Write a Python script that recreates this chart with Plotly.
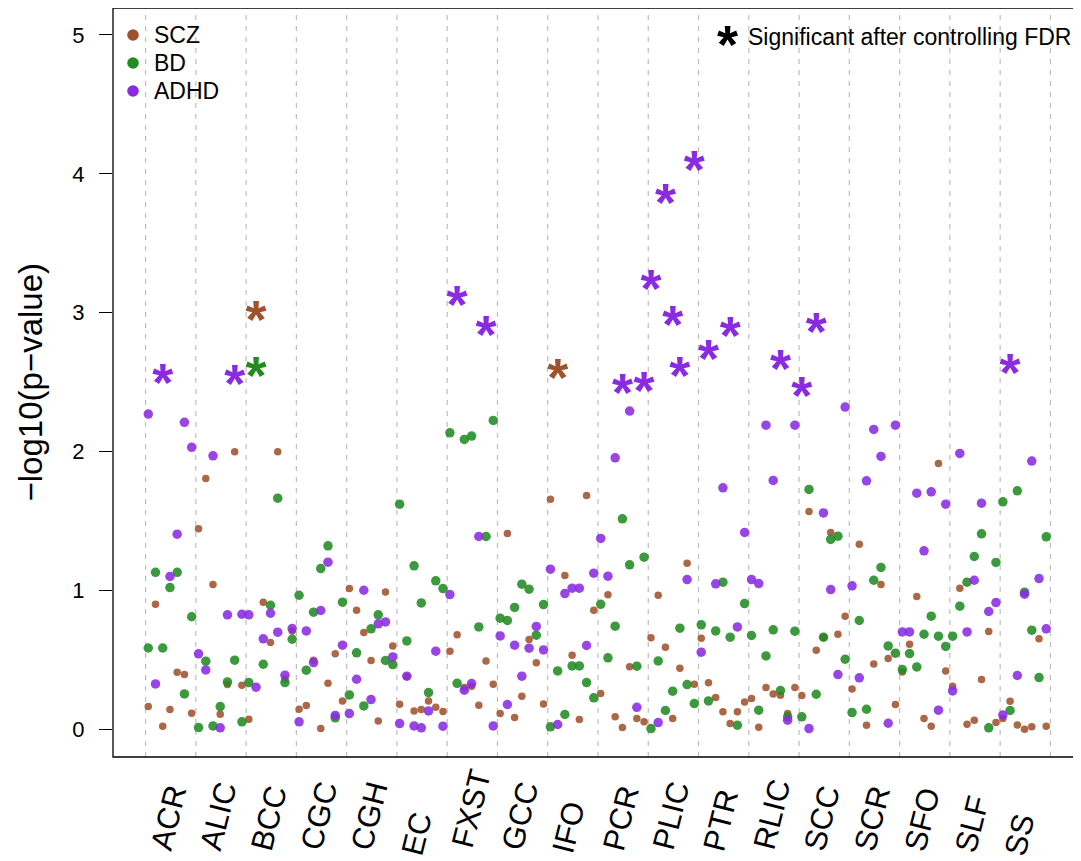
import math
import plotly.graph_objects as go

# ---------------- data ----------------
regions = ["ACR", "ALIC", "BCC", "CGC", "CGH", "EC", "FXST", "GCC", "IFO",
           "PCR", "PLIC", "PTR", "RLIC", "SCC", "SCR", "SFO", "SLF", "SS"]

# -log10(p) per region, 7 measures each
scz = [
    [0.163, 0.90, 0.022, 0.142, 0.41, 0.394, 0.115],
    [1.443, 1.806, 1.042, 0.108, 0.322, 1.998, 0.317],
    [0.072, 3.019, 0.915, 0.624, 1.998, 0.36, 0.708],
    [0.144, 0.171, 0.497, 0.005, 0.331, 0.543, 0.204],
    [1.013, 0.857, 0.697, 0.495, 0.06, 0.989, 0.60],
    [0.18, 0.38, 0.132, 0.142, 0.204, 0.158, 0.127],
    [0.562, 0.68, 0.30, 0.31, 0.173, 0.492, 0.324],
    [0.113, 1.41, 0.084, 0.238, 0.646, 0.478, 0.182],
    [1.657, 2.603, 1.107, 0.533, 0.07, 1.683, 0.857],
    [0.257, 0.968, 0.089, 0.012, 0.45, 0.077, 0.053],
    [0.658, 0.965, 0.591, 0.077, 0.439, 1.196, 0.324],
    [0.656, 0.334, 0.228, 0.125, 0.041, 0.125, 0.197],
    [0.221, 0.014, 0.30, 0.254, 0.245, 0.113, 0.30],
    [0.243, 1.568, 0.569, 0.66, 1.417, 0.684, 0.814],
    [0.29, 1.333, 0.029, 0.47, 1.042, 0.509, 0.178],
    [0.413, 0.612, 0.956, 0.077, 0.022, 1.914, 0.42],
    [0.31, 1.016, 0.036, 0.065, 0.358, 0.704, 0.048],
    [0.077, 0.202, 0.031, 0.0, 0.017, 0.651, 0.022],
]
bd = [
    [0.585, 1.13, 0.585, 1.02, 1.13, 0.254, 0.81],
    [0.012, 0.49, 0.024, 0.163, 0.341, 0.497, 0.053],
    [0.336, 2.615, 0.468, 0.893, 1.664, 0.336, 0.648],
    [0.965, 0.425, 0.843, 1.157, 1.321, 0.082, 0.915],
    [0.247, 0.55, 0.168, 0.723, 0.824, 0.495, 0.466],
    [1.621, 0.636, 1.177, 0.91, 0.264, 1.069, 1.013],
    [2.135, 0.331, 2.087, 2.111, 0.737, 1.388, 2.224],
    [0.80, 0.783, 0.877, 1.045, 1.009, 0.677, 0.898],
    [0.017, 0.42, 0.106, 0.456, 0.456, 0.336, 0.226],
    [0.90, 0.514, 0.742, 1.515, 1.184, 0.454, 1.239],
    [0.005, 0.492, 0.135, 0.274, 0.728, 0.322, 0.185],
    [0.752, 0.204, 0.708, 1.059, 0.663, 0.029, 0.905],
    [0.675, 0.137, 0.528, 0.716, 0.279, 0.089, 0.706],
    [0.089, 1.727, 0.252, 0.663, 1.367, 1.39, 0.504],
    [0.12, 0.783, 0.144, 1.073, 1.165, 0.60, 0.548],
    [0.43, 0.545, 0.449, 0.684, 0.814, 0.67, 0.596],
    [0.67, 0.886, 1.059, 1.244, 1.407, 0.01, 1.201],
    [1.638, 0.135, 1.717, 0.987, 0.713, 0.372, 1.386],
]
adhd = [
    [2.27, 0.326, 2.565, 1.10, 1.405, 2.21, 2.03],
    [0.543, 0.427, 1.969, 0.01, 0.824, 2.563, 0.828],
    [0.824, 0.303, 0.651, 0.836, 0.699, 0.389, 0.725],
    [0.053, 0.708, 0.48, 0.855, 1.203, 0.099, 0.605],
    [0.113, 0.36, 1.001, 0.214, 0.759, 0.773, 0.521],
    [0.041, 0.382, 0.024, 0.01, 0.132, 0.562, 0.022],
    [0.97, 3.127, 0.281, 0.329, 1.388, 2.916, 0.024],
    [0.672, 0.178, 0.605, 0.382, 0.584, 0.74, 0.571],
    [1.153, 0.034, 0.977, 1.016, 1.016, 0.603, 1.124],
    [1.374, 1.102, 1.955, 2.498, 2.291, 0.158, 2.51],
    [3.247, 0.048, 3.864, 2.983, 2.622, 1.078, 4.099],
    [0.555, 2.743, 1.047, 1.739, 2.906, 0.737, 1.417],
    [1.078, 1.049, 2.19, 1.792, 2.670, 0.065, 2.19],
    [2.478, 0.005, 2.934, 1.558, 1.006, 0.394, 2.32],
    [1.033, 0.37, 1.789, 2.159, 1.965, 0.043, 2.19],
    [0.701, 0.701, 1.70, 1.285, 1.71, 0.137, 1.621],
    [0.276, 1.986, 0.701, 1.073, 1.628, 0.848, 0.912],
    [0.103, 2.642, 0.387, 0.973, 1.931, 1.085, 0.723],
]

# significant after FDR: (region, measure index)
scz_sig = [("BCC", 1), ("IFO", 1)]
bd_sig = [("BCC", 1)]
adhd_sig = [("ACR", 2), ("ALIC", 5), ("FXST", 1), ("FXST", 5), ("PCR", 3), ("PCR", 6),
            ("PLIC", 0), ("PLIC", 2), ("PLIC", 3), ("PLIC", 4), ("PLIC", 6),
            ("PTR", 1), ("PTR", 4), ("RLIC", 4), ("SCC", 0), ("SCC", 2), ("SS", 1)]

groups = ["SCZ", "BD", "ADHD"]
y_ticks = [0, 1, 2, 3, 4, 5]

# ---------------- style / geometry ----------------
FONT = "Liberation Sans, Arial, Helvetica, sans-serif"
dot_colors = {"SCZ": "#A0522D", "BD": "#228B22", "ADHD": "#8A2BE2"}
dot_sizes = {"SCZ": 7.5, "BD": 9.5, "ADHD": 9.5}
OFF = 8                       # page body margin
W, H = 1073, 853              # figure size (page 8..1081, 8..861)
ML, MR, MT, MB = 105, 0, 0, 104
PX_PER_X = 50.27
XR0 = -0.148
XR = [XR0, XR0 + (W - ML - MR) / PX_PER_X]
PX_PER_Y = 138.85
YR = [-0.2, -0.2 + (H - MT - MB) / PX_PER_Y]
STAR_FS = 54
star_shift = 0.275 * STAR_FS / PX_PER_Y   # glyph centre sits above the text anchor

LABEL_FS = 31
LABEL_ANGLE = 76
LABEL_BASE = 865.6      # page y of label start line for zero-length text
LABEL_SLOPE = 0.2       # longer labels start slightly higher
# Arial/Liberation Sans advance widths (em) for label letters
CHAR_W = {"A": .667, "B": .667, "C": .722, "E": .667, "F": .611, "G": .778, "H": .722,
          "I": .278, "L": .556, "O": .778, "P": .667, "R": .722, "S": .667, "T": .611, "X": .667}

def slot_offset(k):
    return (k - 3) * 0.1438 - 0.015

plot_w = W - ML - MR
plot_h = H - MT - MB
def px2x(page_px):
    return (page_px - OFF - ML) / plot_w
def py2y(page_py):
    return 1 - (page_py - OFF - MT) / plot_h

fig = go.Figure()

series = {"SCZ": (scz, scz_sig), "BD": (bd, bd_sig), "ADHD": (adhd, adhd_sig)}
stars = []
for g in groups:
    vals, sig = series[g]
    sigset = set(sig)
    xs, ys, sx, sy = [], [], [], []
    for i, reg in enumerate(regions):
        for k, v in enumerate(vals[i]):
            x = i + 1 + slot_offset(k)
            if (reg, k) in sigset:
                sx.append(x); sy.append(v - star_shift)
            else:
                xs.append(x); ys.append(v)
    fig.add_trace(go.Scatter(x=xs, y=ys, mode="markers", name=g,
                             marker=dict(color=dot_colors[g], size=dot_sizes[g], opacity=0.88,
                                         line=dict(width=0)),
                             hoverinfo="skip", cliponaxis=False))
    stars.append((g, sx, sy))

for g, sx, sy in stars:
    fig.add_trace(go.Scatter(x=sx, y=sy, mode="text", text=["*"] * len(sx),
                             textposition="middle center",
                             textfont=dict(family=FONT, size=STAR_FS, color=dot_colors[g],
                                           weight="bold"),
                             hoverinfo="skip", cliponaxis=False, showlegend=False))

shapes = []
for i in range(len(regions) + 1):
    shapes.append(dict(type="line", xref="x", yref="paper", x0=i + 0.5, x1=i + 0.5, y0=0, y1=1,
                       line=dict(color="#BEBEBE", width=1.2, dash="5px,6px"), layer="below"))
shapes.append(dict(type="rect", xref="paper", yref="paper", x0=0, x1=1.01, y0=0, y1=1,
                   line=dict(color="black", width=1.3)))

annotations = []
# legend (left)
leg_y = [35, 63, 91]
for g, yy in zip(groups, leg_y):
    shapes.append(dict(type="circle", xref="paper", yref="paper", xsizemode="pixel", ysizemode="pixel",
                       xanchor=px2x(133), yanchor=py2y(yy), x0=-5.8, x1=5.8, y0=-5.8, y1=5.8,
                       fillcolor=dot_colors[g], line=dict(width=0)))
    annotations.append(dict(text=g, xref="paper", yref="paper", x=px2x(152), y=py2y(yy),
                            xanchor="left", yanchor="middle", showarrow=False,
                            font=dict(family=FONT, size=23, color="black")))
# legend (right)
annotations.append(dict(text="*", xref="paper", yref="paper", x=px2x(727), y=py2y(37),
                        xanchor="center", yanchor="middle", showarrow=False, yshift=-7,
                        font=dict(family=FONT, size=STAR_FS, color="black", weight="bold")))
annotations.append(dict(text="Significant after controlling FDR", xref="paper", yref="paper",
                        x=px2x(746), y=py2y(37), xanchor="left", yanchor="middle", showarrow=False,
                        font=dict(family=FONT, size=23, color="black")))
# y title
annotations.append(dict(text="\u2212log10(p\u2212value)", xref="paper", yref="paper",
                        x=px2x(30), y=0.5, textangle=-90, xanchor="center", yanchor="middle",
                        showarrow=False, font=dict(family=FONT, size=33, color="black")))
# x labels: text rotated about its start point (region centre)
a = math.radians(LABEL_ANGLE)
c_mid = 0.3465 * LABEL_FS          # text-box centre above baseline
for i, reg in enumerate(regions):
    L = sum(CHAR_W[ch] for ch in reg) * LABEL_FS
    xs_ = (L / 2) * math.cos(a) - c_mid * math.sin(a)
    ys_ = (L / 2) * math.sin(a) + c_mid * math.cos(a)
    y_start = LABEL_BASE - LABEL_SLOPE * L
    annotations.append(dict(text=reg, xref="x", yref="paper", x=i + 1, y=py2y(y_start),
                            xanchor="center", yanchor="middle", xshift=xs_, yshift=ys_,
                            textangle=-LABEL_ANGLE, showarrow=False,
                            font=dict(family=FONT, size=LABEL_FS, color="black")))

fig.update_layout(
    width=W, height=H, margin=dict(l=ML, r=MR, t=MT, b=MB, pad=0),
    plot_bgcolor="white", paper_bgcolor="white", showlegend=False,
    xaxis=dict(range=XR, showgrid=False, zeroline=False, showticklabels=False, ticks="",
               showline=False, fixedrange=True),
    yaxis=dict(range=YR, tickvals=y_ticks, ticktext=[str(t) for t in y_ticks], ticks="outside",
               ticklen=13, tickwidth=1.3, tickcolor="black", showgrid=False, zeroline=False,
               showline=False, ticklabelstandoff=10,
               tickfont=dict(family=FONT, size=22, color="black"), fixedrange=True),
    shapes=shapes, annotations=annotations,
)

fig.write_html("out.html")
